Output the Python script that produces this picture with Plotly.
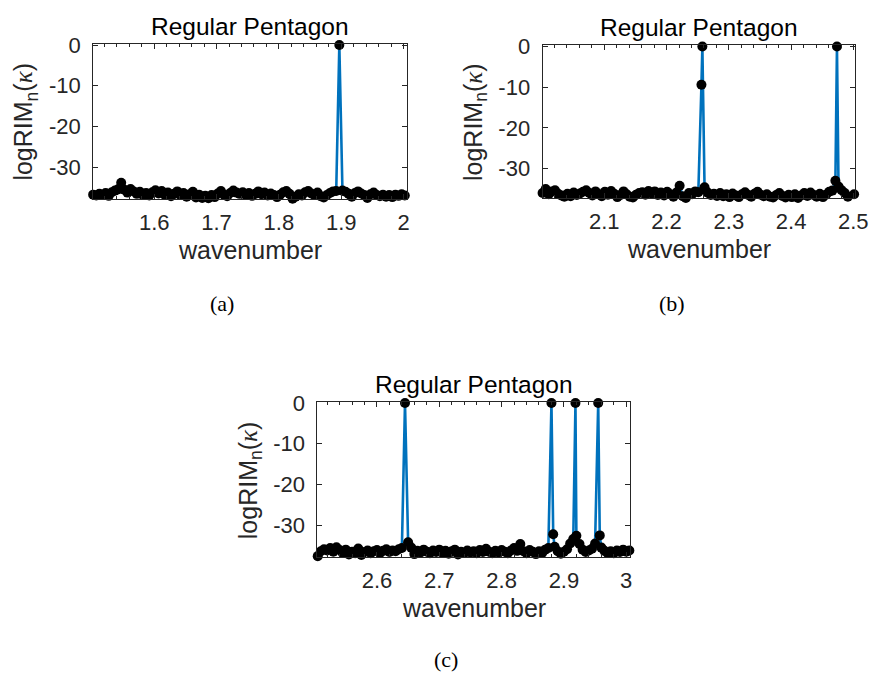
import plotly.graph_objects as go

W, H = 873, 673

# ---------------- data ----------------
# panel (a): wavenumber grid start / step, logRIM values
a_start, a_step = 1.502, 0.005
a_y = [-36.8, -37.0, -36.6, -36.9, -36.4, -37.1, -36.2, -35.8, -35.5, -33.9,
       -35.6, -36.3, -35.4, -36.0, -36.6, -36.1, -36.9, -36.4, -37.0, -36.2,
       -35.7, -36.5, -35.9, -36.8, -36.3, -37.2, -36.6, -36.0, -36.9, -36.4,
       -37.3, -36.7, -36.1, -37.5, -36.8, -37.6, -37.1, -37.7, -36.9, -37.4,
       -36.5, -35.9, -36.8, -37.2, -36.4, -35.8, -36.3, -36.6, -36.2, -36.9,
       -36.4, -37.1, -36.6, -36.0, -36.7, -36.3, -37.0, -36.5, -36.9, -37.4,
       -36.8, -36.2, -35.9, -36.6, -37.8, -37.3, -36.7, -37.0, -36.2, -35.9,
       -36.5, -36.9, -36.3, -37.2, -37.5, -36.9, -36.4, -36.0, -35.9, 0.0,
       -35.8, -36.1, -36.6, -37.3, -36.4, -36.0, -36.5, -36.9, -37.6, -36.7,
       -36.3, -36.9, -37.2, -36.8, -37.3, -36.9, -37.4, -36.8, -37.1, -36.7,
       -37.0]
a_extra_x = []
a_extra_y = []

# panel (b)
b_start, b_step = 2.001, 0.005
b_y = [-36.0, -35.0, -36.3, -35.6, -35.3, -36.2, -36.6, -36.9, -36.2, -36.8,
       -35.9, -36.5, -36.1, -35.7, -35.3, -36.0, -36.6, -35.6, -36.3, -36.8,
       -35.7, -36.4, -35.5, -36.2, -37.0, -36.5, -35.6, -36.3, -36.9, -37.1,
       -36.4, -36.0, -35.8, -36.4, -35.5, -36.1, -35.6, -36.5, -35.9, -36.6,
       -35.7, -36.3, -36.9, -35.9, -34.2, -36.8, -37.2, -36.0, -36.3, -35.6,
       -35.8, -9.4, -34.6, -35.9, -36.5, -36.2, -36.7, -36.0, -36.8, -36.3,
       -37.0, -36.1, -36.6, -37.0, -36.3, -35.8, -36.5, -36.9, -36.2, -35.7,
       -36.4, -36.8, -36.3, -36.9, -37.1, -36.5, -36.0, -36.7, -37.1, -36.4,
       -37.0, -36.3, -37.2, -36.6, -36.0, -36.7, -35.9, -36.5, -36.9, -36.2,
       -37.0, -36.4, -35.7, -35.4, -33.0, -34.4, -35.3, -36.0, -36.9, -37.3,
       -36.3]
b_extra_x = [2.2575, 2.4735]
b_extra_y = [0.0, 0.0]

# panel (c)
c_start, c_step = 2.505, 0.005
c_y = [-37.6, -36.4, -35.9, -36.2, -35.6, -36.5, -35.4, -36.1, -36.8, -36.0,
       -37.2, -36.5, -36.9, -35.7, -37.3, -36.6, -36.2, -36.9, -36.4, -36.1,
       -36.8, -36.3, -35.9, -36.6, -36.2, -36.4, -35.9, -35.6, 0.0, -34.2,
       -35.5, -37.1, -36.3, -36.7, -36.0, -36.5, -36.9, -36.2, -36.6, -36.0,
       -36.8, -36.3, -37.0, -36.4, -36.0, -37.2, -36.5, -36.8, -36.2, -36.7,
       -36.4, -36.9, -36.1, -36.6, -35.8, -36.5, -36.9, -36.3, -36.7, -36.1,
       -36.5, -36.9, -36.2, -35.6, -36.3, -34.6, -36.4, -36.9, -36.1, -36.5,
       -37.1, -36.4, -36.8, -36.0, -35.6, 0.0, -35.3, -36.4, -37.0, -36.5,
       -35.9, -34.5, -33.4, -32.6, -34.6, -36.0, -36.6, -36.2, -35.8, -34.5,
       0.0, -35.5, -36.3, -36.8, -36.4, -36.9, -36.2, -36.6, -36.0, -36.5,
       -36.2]
c_extra_x = [2.8828, 2.9185, 2.9575]
c_extra_y = [-32.2, 0.0, -32.5]

x_ticks = [[1.6, 1.7, 1.8, 1.9, 2.0], [2.1, 2.2, 2.3, 2.4, 2.5], [2.6, 2.7, 2.8, 2.9, 3.0]]
x_ticktext = [["1.6", "1.7", "1.8", "1.9", "2"], ["2.1", "2.2", "2.3", "2.4", "2.5"],
              ["2.6", "2.7", "2.8", "2.9", "3"]]
y_ticks = [0, -10, -20, -30]
y_ticktext = ["0", "-10", "-20", "-30"]
title_text = "Regular Pentagon"
xlabel_text = "wavenumber"
ylabel_text = "logRIM<sub>n</sub>(<i><span style='font-family:Liberation Serif'>κ</span></i>)"
captions = ["(a)", "(b)", "(c)"]


def build(start, step, ys, ex, ey):
    xs = [round(start + step * i, 4) for i in range(len(ys))]
    pts = sorted(zip(xs + ex, ys + ey))
    return [p[0] for p in pts], [p[1] for p in pts]


panels = [build(a_start, a_step, a_y, a_extra_x, a_extra_y),
          build(b_start, b_step, b_y, b_extra_x, b_extra_y),
          build(c_start, c_step, c_y, c_extra_x, c_extra_y)]

# ---------------- layout geometry (target picture pixels) ----------------
boxes = [(93, 406, 44, 199), (541.7, 854, 45, 198), (317, 629, 402, 557)]
xranges = [[1.502, 2.005], [2.001, 2.503], [2.5046, 3.006]]
yranges = [[-37.9, 0.25], [-37.25, 0.35], [-37.9, 0.2]]

# compensation for the slight scale/offset seen in the photographed page
SX, SY, OY = 0.995, 0.983, 11.0

def fx(X):
    return (X / SX) / W

def fy(Y):
    return 1 - ((Y - OY) / SY) / H

AX = "#262626"
SANS = "Liberation Sans, Arial, Helvetica, sans-serif"

fig = go.Figure()
layout = dict(width=W, height=H, autosize=False, margin=dict(l=0, r=0, t=0, b=0, pad=0),
              paper_bgcolor="white", plot_bgcolor="white", showlegend=False,
              font=dict(family=SANS, color=AX))
annotations = []

for i, ((xs, ys), (l, r, t, b)) in enumerate(zip(panels, boxes)):
    sfx = "" if i == 0 else str(i + 1)
    fig.add_trace(go.Scatter(
        x=xs, y=ys, mode="lines+markers",
        line=dict(color="#0072BD", width=2.6),
        marker=dict(color="black", size=10, line=dict(width=0)),
        cliponaxis=False,
        xaxis="x" + sfx, yaxis="y" + sfx))
    ttext = list(x_ticktext[i])
    if i == 1:
        ttext[-1] = ""
    layout["xaxis" + sfx] = dict(
        domain=[fx(l), fx(r)], range=xranges[i], anchor="y" + sfx,
        tickmode="array", tickvals=x_ticks[i], ticktext=ttext,
        ticks="inside", ticklen=5, tickcolor=AX, tickwidth=1,
        showline=True, linecolor=AX, linewidth=1, mirror="allticks",
        showgrid=False, zeroline=False,
        tickfont=dict(size=22, family=SANS, color=AX), ticklabelstandoff=3,
        minor=dict(tickmode="linear", tick0=1.5, dtick=0.02, ticks="inside",
                   ticklen=3, tickcolor=AX, tickwidth=1, showgrid=False))
    layout["yaxis" + sfx] = dict(
        domain=[fy(b), fy(t)], range=yranges[i], anchor="x" + sfx,
        tickmode="array", tickvals=y_ticks, ticktext=y_ticktext,
        ticks="inside", ticklen=5, tickcolor=AX, tickwidth=1,
        showline=True, linecolor=AX, linewidth=1, mirror="allticks",
        showgrid=False, zeroline=False,
        tickfont=dict(size=22, family=SANS, color=AX), ticklabelstandoff=7)
    cx = (l + r) / 2
    cy = (t + b) / 2
    annotations.append(dict(text=title_text, x=fx(cx), y=fy(t - 17.5),
                            xref="paper", yref="paper", showarrow=False,
                            xanchor="center", yanchor="middle",
                            font=dict(size=24.5, family=SANS, color="black")))
    annotations.append(dict(text=xlabel_text, x=fx(cx), y=fy(b + 51),
                            xref="paper", yref="paper", showarrow=False,
                            xanchor="center", yanchor="middle",
                            font=dict(size=25, family=SANS, color=AX)))
    annotations.append(dict(text=ylabel_text, x=fx(l - 68), y=fy(cy),
                            xref="paper", yref="paper", showarrow=False,
                            textangle=-90, xanchor="center", yanchor="middle",
                            font=dict(size=25, family=SANS, color=AX)))

# last tick label of panel (b), placed as text so it stays inside the page
annotations.append(dict(text=x_ticktext[1][-1], x=fx(852.3), y=fy(221),
                        xref="paper", yref="paper", showarrow=False,
                        xanchor="center", yanchor="middle",
                        font=dict(size=22, family=SANS, color=AX)))

cap_pos = [(222, 303), (671, 303), (445, 659)]
for txt, (cx, cy) in zip(captions, cap_pos):
    annotations.append(dict(text=txt, x=fx(cx), y=fy(cy), xref="paper", yref="paper",
                            showarrow=False, xanchor="center", yanchor="middle",
                            font=dict(size=22, family="Liberation Serif, serif", color="black")))

layout["annotations"] = annotations
fig.update_layout(**layout)
fig.write_html("out.html")
